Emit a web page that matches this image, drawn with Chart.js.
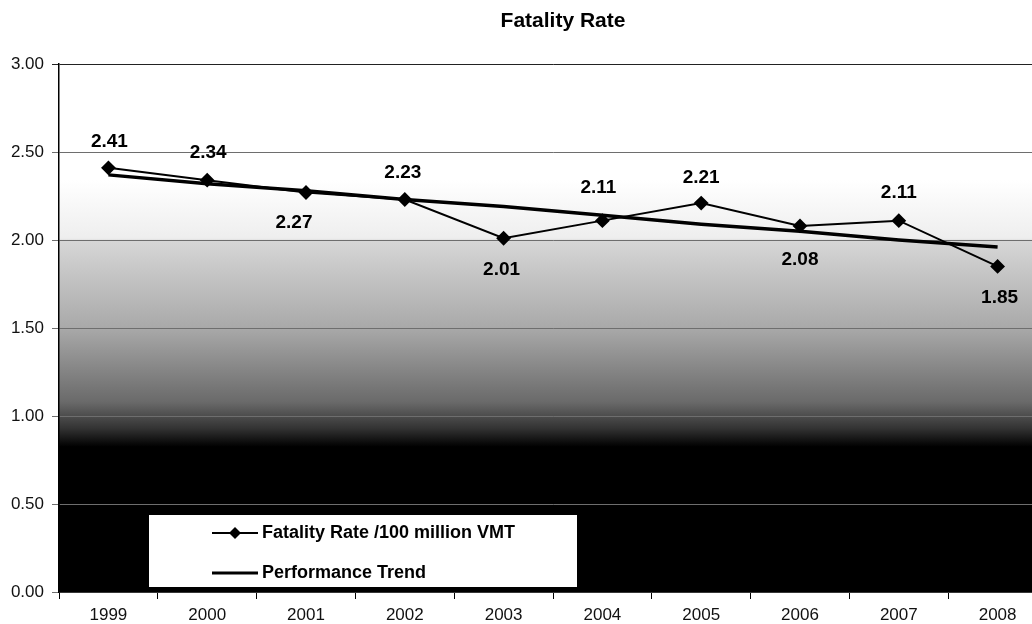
<!DOCTYPE html>
<html><head><meta charset="utf-8">
<script src="https://cdn.jsdelivr.net/npm/chart.js@4/dist/chart.umd.min.js"></script>
<style>
html,body{margin:0;padding:0;overflow:hidden;background:#fff;width:1032px;height:624px}
#wrap{position:relative;width:1055px;height:624px}
</style>
</head><body><div id="wrap"><canvas id="c"></canvas></div>
<script>
// ---- data ----
const years = ['1999','2000','2001','2002','2003','2004','2005','2006','2007','2008'];
const fatalityRate = [2.41, 2.34, 2.27, 2.23, 2.01, 2.11, 2.21, 2.08, 2.11, 1.85];
const performanceTrend = [2.37, 2.32, 2.28, 2.23, 2.19, 2.14, 2.09, 2.05, 2.00, 1.96];
const yTicks = [0, 0.5, 1.0, 1.5, 2.0, 2.5, 3.0];
const seriesNames = ['Fatality Rate /100 million VMT', 'Performance Trend'];
const titleText = 'Fatality Rate';

const FONT = '"Liberation Sans", Arial, sans-serif';

const bgPlugin = {
  id: 'bg',
  beforeDraw(chart) {
    const {ctx, chartArea: a} = chart;
    const g = ctx.createLinearGradient(0, a.top, 0, a.bottom);
    g.addColorStop(0, '#ffffff');
    g.addColorStop(0.22, '#ffffff');
    g.addColorStop(0.33, '#eeeeee');
    g.addColorStop(0.336, '#d6d6d6');
    g.addColorStop(0.5, '#a9a9a9');
    g.addColorStop(0.64, '#6a6a6a');
    g.addColorStop(0.69, '#333333');
    g.addColorStop(0.725, '#000000');
    g.addColorStop(1, '#000000');
    ctx.save();
    ctx.fillStyle = g;
    ctx.fillRect(a.left, a.top, a.right - a.left, a.bottom - a.top);
    ctx.restore();
  }
};

const titlePlugin = {
  id: 'ttl',
  afterDraw(chart) {
    const ctx = chart.ctx;
    ctx.save();
    ctx.font = 'bold 21px ' + FONT;
    ctx.fillStyle = '#000';
    ctx.textAlign = 'center';
    ctx.textBaseline = 'middle';
    ctx.fillText(titleText, 563, 21);
    ctx.restore();
  }
};

const labelOffsets = [[1,-26],[1,-27],[-12,30],[-2,-27],[-2,32],[-4,-33],[0,-25],[0,34],[0,-28],[2,31]];
const labelsPlugin = {
  id: 'dlabels',
  afterDatasetsDraw(chart) {
    const ctx = chart.ctx;
    const meta = chart.getDatasetMeta(0);
    const ds = chart.data.datasets[0];
    ctx.save();
    ctx.font = 'bold 19px ' + FONT;
    ctx.fillStyle = '#000';
    ctx.textAlign = 'center';
    ctx.textBaseline = 'middle';
    meta.data.forEach((pt, i) => {
      const o = labelOffsets[i] || [0, -26];
      ctx.fillText(ds.data[i].toFixed(2), pt.x + o[0], pt.y + o[1]);
    });
    ctx.restore();
  }
};

const legendPlugin = {
  id: 'boxlegend',
  afterDraw(chart) {
    const ctx = chart.ctx;
    const x = 148, y = 514, w = 430, h = 74;
    ctx.save();
    ctx.fillStyle = '#fff';
    ctx.fillRect(x, y, w, h);
    ctx.strokeStyle = '#000';
    ctx.lineWidth = 1;
    ctx.strokeRect(x + 0.5, y + 0.5, w - 1, h - 1);
    ctx.font = 'bold 18px ' + FONT;
    ctx.fillStyle = '#000';
    ctx.textBaseline = 'middle';
    ctx.textAlign = 'left';
    const rows = [533, 573];
    chart.data.datasets.forEach((ds, i) => {
      const ry = rows[i];
      ctx.strokeStyle = '#000';
      ctx.lineWidth = i === 0 ? 2 : 3;
      ctx.beginPath();
      ctx.moveTo(212, ry);
      ctx.lineTo(258, ry);
      ctx.stroke();
      if (i === 0) {
        ctx.beginPath();
        ctx.moveTo(235, ry - 6);
        ctx.lineTo(241, ry);
        ctx.lineTo(235, ry + 6);
        ctx.lineTo(229, ry);
        ctx.closePath();
        ctx.fill();
      }
      ctx.fillText(ds.label, 262, ry);
    });
    ctx.restore();
  }
};

new Chart(document.getElementById('c'), {
  type: 'line',
  data: {
    labels: years,
    datasets: [
      {
        label: seriesNames[0],
        data: fatalityRate,
        borderColor: '#000',
        backgroundColor: '#000',
        borderWidth: 2,
        pointStyle: 'rectRot',
        pointRadius: 6,
        pointHoverRadius: 6,
        pointBackgroundColor: '#000',
        pointBorderColor: '#000',
        tension: 0,
        fill: false
      },
      {
        label: seriesNames[1],
        data: performanceTrend,
        borderColor: '#000',
        borderWidth: 3.5,
        pointRadius: 0,
        tension: 0,
        fill: false
      }
    ]
  },
  options: {
    responsive: true,
    maintainAspectRatio: false,
    animation: false,
    events: [],
    layout: { padding: { top: 64, right: 2, bottom: 0, left: 0 } },
    plugins: { legend: { display: false }, title: { display: false }, tooltip: { enabled: false } },
    scales: {
      x: {
        type: 'category',
        offset: true,
        grid: { offset: true, drawOnChartArea: false, color: '#000', tickLength: 7, lineWidth: 1 },
        border: { color: '#000', width: 1.5 },
        ticks: { color: '#111', font: { family: FONT, size: 17 }, padding: 6, maxRotation: 0, autoSkip: false },
        afterFit(s) { s.height = 32; }
      },
      y: {
        min: 0, max: 3,
        afterBuildTicks(s) { s.ticks = yTicks.map(v => ({ value: v })); },
        grid: {
          color: ctx => ctx.tick && ctx.tick.value === 3 ? '#222' : '#6e6e6e',
          lineWidth: 1,
          tickLength: 7
        },
        border: { color: '#000', width: 1.5 },
        ticks: { color: '#111', font: { family: FONT, size: 17 }, padding: 8, callback: v => Number(v).toFixed(2) },
        afterFit(s) { s.width = 59; }
      }
    }
  },
  plugins: [bgPlugin, labelsPlugin, legendPlugin, titlePlugin]
});
</script>
</body></html>
